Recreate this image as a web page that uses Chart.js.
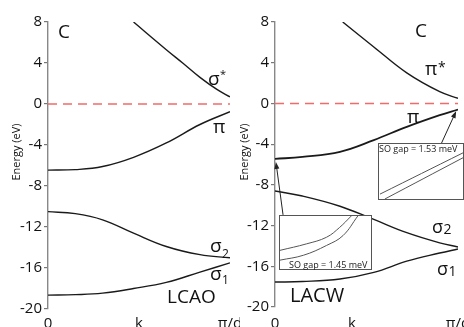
<!DOCTYPE html>
<html><head><meta charset="utf-8">
<script src="https://cdn.jsdelivr.net/npm/chart.js@4"></script>
<style>
html,body{margin:0;padding:0;background:#fff;width:464px;height:327px;overflow:hidden;position:relative;}
canvas{position:absolute;}
.inset{position:absolute;background:#fff;border:1px solid #555;box-sizing:border-box;}
.note{position:absolute;font:9px "Open Sans";color:#222;white-space:nowrap;line-height:10px;}
</style></head><body>
<canvas id="left" width="240" height="327" style="left:0;top:0"></canvas>
<canvas id="right" width="224" height="327" style="left:240px;top:0"></canvas>
<div class="inset" style="left:279px;top:215px;width:93px;height:55px"><canvas id="inL" width="91" height="53" style="left:0;top:0"></canvas></div>
<div class="note" style="left:289px;top:260px">SO gap = 1.45 meV</div>
<div class="inset" style="left:378px;top:143px;width:86px;height:57px"><canvas id="inR" width="84" height="55" style="left:0;top:0"></canvas></div>
<div class="note" style="left:379px;top:144px">SO gap = 1.53 meV</div>
<script>
// ---- data ----
const yTickValues = [8, 4, 0, -4, -8, -12, -16, -20];
const xTickLabels = ['0', 'k', 'π/d'];
const yTitle = 'Energy (eV)';

// LCAO panel (k as fraction of π/d)
const lcaoK = [0, 0.15, 0.3, 0.47, 0.65, 0.835, 1];
const lcaoPi = [-6.45, -6.4, -6.1, -5.2, -3.8, -2.0, -0.75];
const lcaoSigma2 = [-10.5, -10.7, -11.3, -12.6, -13.9, -14.7, -15.0];
const lcaoSigma1 = [-18.65, -18.6, -18.45, -18.0, -17.4, -16.4, -15.5];
const lcaoSigmaStarK = [0.47, 0.65, 0.74, 0.835, 0.93, 1];
const lcaoSigmaStar = [8, 5.3, 4.0, 2.6, 1.4, 0.7];

// LACW panel
const lacwK = [0, 0.15, 0.355, 0.54, 0.72, 0.9, 1];
const lacwPi = [-5.45, -5.25, -4.75, -3.6, -2.3, -1.15, -0.6];
const lacwSigma2 = [-8.6, -9.1, -10.1, -11.4, -12.7, -13.7, -14.1];
const lacwSigma1 = [-17.55, -17.5, -17.25, -16.6, -15.5, -14.7, -14.3];
const lacwPiStarK = [0.37, 0.54, 0.72, 0.9, 1];
const lacwPiStar = [8, 5.55, 3.0, 1.15, 0.5];

// insets (normalised)
const gap145UpperX = [0, 0.293, 0.511, 0.655, 0.783];
const gap145UpperY = [0.352, 0.475, 0.599, 0.784, 1];
const gap145LowerX = [0, 0.257, 0.511, 0.692, 0.855];
const gap145LowerY = [0.167, 0.259, 0.444, 0.63, 1];
const gap153UpperX = [0.012, 1];
const gap153UpperY = [0.089, 0.839];
const gap153LowerX = [0.07, 1];
const gap153LowerY = [0, 0.75];

const FONT = '"Open Sans", "DejaVu Sans", sans-serif';
const zip = (xs, ys) => xs.map((x, i) => ({x, y: ys[i]}));

function curve(xs, ys, w) {
  return {data: zip(xs, ys), borderColor: '#1a1a1a', borderWidth: w || 1.4, pointRadius: 0,
    tension: 0.4, fill: false};
}
function zeroLine() {
  return {data: zip([0, 1], [0, 0]), borderColor: '#f26a6a', borderWidth: 1.6, borderDash: [9, 6],
    pointRadius: 0, fill: false};
}

const textPlugin = {
  id: 'texts',
  afterDatasetsDraw(chart, args, opts) {
    const ctx = chart.ctx, xs = chart.scales.x, ys = chart.scales.y;
    ctx.save();
    ctx.fillStyle = '#111';
    ctx.save();
    ctx.font = '11px ' + FONT;
    ctx.translate(opts.titleX, 152);
    ctx.rotate(-Math.PI / 2);
    ctx.textAlign = 'center'; ctx.textBaseline = 'middle';
    ctx.fillText(yTitle, 0, 0);
    ctx.restore();
    ctx.textBaseline = 'alphabetic'; ctx.textAlign = 'left';
    for (const l of opts.labels) {
      const x = xs.getPixelForValue(l.f), y = ys.getPixelForValue(l.v);
      ctx.font = l.size + 'px ' + FONT;
      ctx.fillText(l.t, x, y);
      const w = ctx.measureText(l.t).width;
      if (l.s) {
        ctx.font = l.ss + 'px ' + FONT;
        ctx.fillText(l.s, x + w + (l.sx || 0.5), y + l.sdy);
      }
    }
    ctx.strokeStyle = '#222'; ctx.fillStyle = '#222'; ctx.lineWidth = 1;
    for (const a of (opts.arrows || [])) {
      const x1 = xs.getPixelForValue(a[0]), y1 = ys.getPixelForValue(a[1]);
      const x2 = xs.getPixelForValue(a[2]), y2 = ys.getPixelForValue(a[3]);
      const ang = Math.atan2(y2 - y1, x2 - x1);
      ctx.beginPath(); ctx.moveTo(x1, y1); ctx.lineTo(x2 - 5 * Math.cos(ang), y2 - 5 * Math.sin(ang)); ctx.stroke();
      ctx.beginPath();
      ctx.moveTo(x2, y2);
      ctx.lineTo(x2 - 7 * Math.cos(ang) + 2.5 * Math.sin(ang), y2 - 7 * Math.sin(ang) - 2.5 * Math.cos(ang));
      ctx.lineTo(x2 - 7 * Math.cos(ang) - 2.5 * Math.sin(ang), y2 - 7 * Math.sin(ang) + 2.5 * Math.cos(ang));
      ctx.closePath(); ctx.fill();
    }
    ctx.restore();
  }
};

function panel(id, datasets, cfg) {
  return new Chart(document.getElementById(id), {
    type: 'line',
    data: {datasets},
    options: {
      responsive: false, animation: false, events: [],
      layout: {padding: {top: 22, right: cfg.padRight, left: 0, bottom: 0}},
      plugins: {legend: {display: false}, tooltip: {enabled: false},
        texts: {labels: cfg.labels, arrows: cfg.arrows, titleX: cfg.titleX}},
      scales: {
        x: {type: 'linear', min: 0, max: 1,
          grid: {display: false}, border: {display: false},
          afterBuildTicks: s => { s.ticks = [0, cfg.kPos, 1].map(v => ({value: v})); },
          afterFit: s => { s.height = cfg.xH; s.paddingLeft = 0; s.paddingRight = 0; },
          ticks: {padding: cfg.xPad, color: '#111', font: {family: FONT, size: 15},
            maxRotation: 0, autoSkip: false,
            callback: v => v === 0 ? xTickLabels[0] : (v === 1 ? xTickLabels[2] : xTickLabels[1])}},
        y: {min: -20, max: 8,
          afterBuildTicks: s => { s.ticks = yTickValues.map(v => ({value: v})); },
          afterFit: s => { s.width = cfg.yW; },
          grid: {drawOnChartArea: false, drawTicks: true, tickLength: 4, color: '#777', lineWidth: 1.2},
          border: {display: true, color: '#888', width: 1.4},
          ticks: {padding: 2, color: '#111', font: {family: FONT, size: 15}}}
      }
    },
    plugins: [textPlugin]
  });
}

panel('left', [
  zeroLine(),
  curve(lcaoSigmaStarK, lcaoSigmaStar),
  curve(lcaoK, lcaoPi),
  curve(lcaoK, lcaoSigma2),
  curve(lcaoK, lcaoSigma1)
], {
  padRight: 10, yW: 48, xH: 18, xPad: -2, kPos: 0.5, titleX: 17,
  labels: [
    {t: 'C', f: 0.055, v: 6.44, size: 19},
    {t: 'σ', f: 0.879, v: 1.85, size: 19, s: '*', ss: 11, sdy: -7},
    {t: 'π', f: 0.907, v: -2.83, size: 19},
    {t: 'σ', f: 0.89, v: -14.44, size: 19, s: '2', ss: 12, sdy: 6},
    {t: 'σ', f: 0.89, v: -17.17, size: 19, s: '1', ss: 12, sdy: 4},
    {t: 'LCAO', f: 0.654, v: -19.41, size: 19}
  ],
  arrows: []
});

panel('right', [
  zeroLine(),
  curve(lacwPiStarK, lacwPiStar),
  curve(lacwK, lacwPi, 1.8),
  curve(lacwK, lacwSigma2),
  curve(lacwK, lacwSigma1)
], {
  padRight: 6, yW: 35, xH: 20, xPad: 0, kPos: 0.42, titleX: 5,
  labels: [
    {t: 'C', f: 0.765, v: 6.5, size: 19},
    {t: 'π', f: 0.82, v: 2.77, size: 19, s: '*', ss: 14, sdy: -3},
    {t: 'π', f: 0.721, v: -1.93, size: 19},
    {t: 'σ', f: 0.858, v: -12.72, size: 18, s: '2', ss: 14, sdy: 1, sx: 0},
    {t: 'σ', f: 0.885, v: -16.83, size: 18, s: '1', ss: 14, sdy: 1, sx: 0},
    {t: 'LACW', f: 0.082, v: -19.5, size: 20}
  ],
  arrows: [[0.044, -10.95, 0.005, -5.75], [0.91, -3.9, 0.99, -0.75]]
});

function inset(id, sets) {
  return new Chart(document.getElementById(id), {
    type: 'line',
    data: {datasets: sets.map(s => ({data: zip(s[0], s[1]), borderColor: '#555', borderWidth: 1,
      pointRadius: 0, tension: 0.4, fill: false}))},
    options: {responsive: false, animation: false, events: [],
      layout: {padding: 0},
      plugins: {legend: {display: false}, tooltip: {enabled: false}},
      scales: {x: {type: 'linear', min: 0, max: 1, display: false},
               y: {min: 0, max: 1, display: false}}}
  });
}
inset('inL', [[gap145UpperX, gap145UpperY], [gap145LowerX, gap145LowerY]]);
inset('inR', [[gap153UpperX, gap153UpperY], [gap153LowerX, gap153LowerY]]);
</script>
</body></html>
